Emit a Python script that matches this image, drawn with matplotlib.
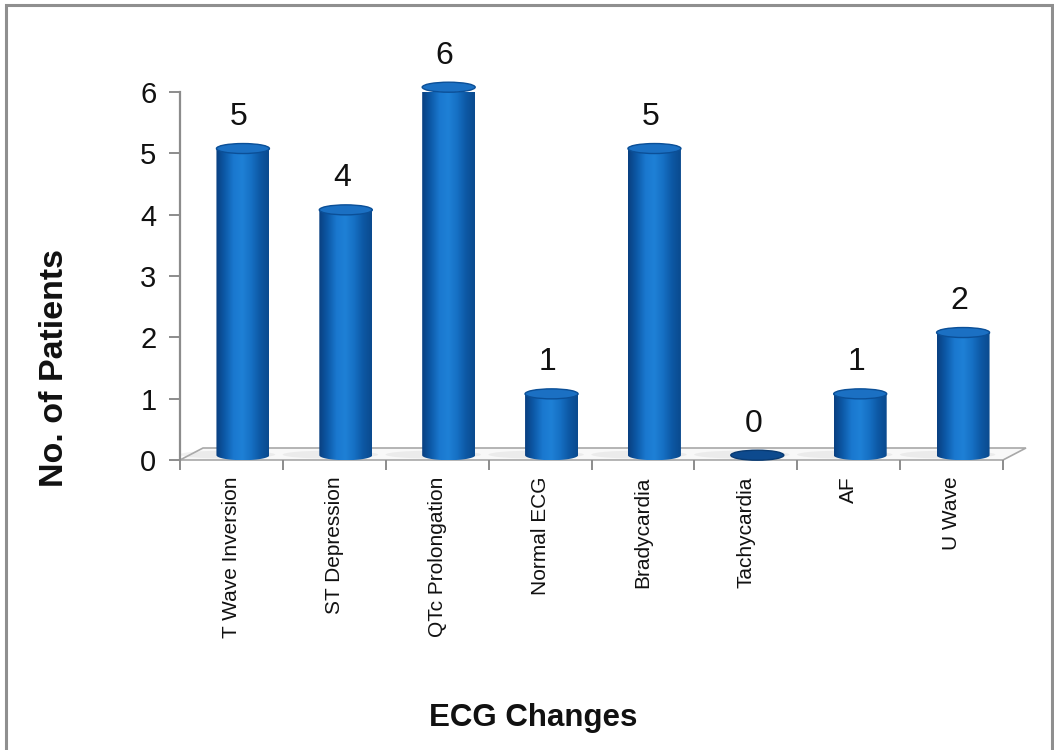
import numpy as np
import matplotlib
matplotlib.use('Agg')
import matplotlib.pyplot as plt
from matplotlib.path import Path
from matplotlib.patches import PathPatch, Ellipse, Polygon, Rectangle
from matplotlib.colors import LinearSegmentedColormap

plt.rcParams['font.family'] = ['Liberation Sans', 'DejaVu Sans']

categories = ['T Wave Inversion', 'ST Depression', 'QTc Prolongation', 'Normal ECG',
              'Bradycardia', 'Tachycardia', 'AF', 'U Wave']
patients = [5, 4, 6, 1, 5, 0, 1, 2]
yticks = [0, 1, 2, 3, 4, 5, 6]

W, H = 1054, 750
fig = plt.figure(figsize=(W / 100, H / 100), dpi=100)
fig.patch.set_facecolor('white')

# outer frame
fig.patches.append(Rectangle((6 / W, -0.05), (1052 - 6) / W, 1.05 - 5 / H,
                             transform=fig.transFigure, fill=False,
                             edgecolor='#8f8f8f', lw=2.2))

ax = fig.add_axes([180 / W, 1 - 460 / H, 823 / W, 368 / H])
ax.set_xlim(0, len(categories))
ax.set_ylim(0, 6)
ax.patch.set_alpha(0)

# 3d depth of the floor in data units
ppx = 823 / len(categories)
ppy = 368 / 6
dx = 23 / ppx
dy = 12 / ppy

n = len(categories)
floor = Polygon([(0, 0), (n, 0), (n + dx, dy), (dx, dy)], closed=True,
                facecolor='#f8f8f8', edgecolor='#a8a8a8', lw=1.2, clip_on=False, zorder=1)
ax.add_patch(floor)

bar_cmap = LinearSegmentedColormap.from_list(
    'cyl', ['#093f80', '#0d5aa8', '#1a78cf', '#1e80d6', '#1670c4', '#0d58a4', '#0a4a8e'])
grad = np.linspace(0, 1, 256).reshape(1, -1)

bw = 53 / ppx
eh = 10 / ppy
zoff = 0.4 * dy

for i, v in enumerate(patients):
    cx = i + 0.5 + dx / 2
    x0, x1 = cx - bw / 2, cx + bw / 2
    yb = zoff
    yt = v + zoff

    # faint shadow on the floor
    ax.add_patch(Ellipse((cx - 0.15, yb + 0.01), bw * 1.8, eh * 0.8, facecolor='#b5b5b5',
                         alpha=0.18, edgecolor='none', clip_on=False, zorder=2))

    if v > 0:
        # cylinder outline: lower half of base ellipse, right side, upper half of top ellipse
        tb = np.linspace(np.pi, 2 * np.pi, 40)
        tt = np.linspace(0, np.pi, 40)
        bottom = np.column_stack([cx + bw / 2 * np.cos(tb), yb + eh / 2 * np.sin(tb)])
        top = np.column_stack([cx + bw / 2 * np.cos(tt), yt + eh / 2 * np.sin(tt)])
        verts = np.vstack([bottom, top, bottom[:1]])
        body = PathPatch(Path(verts, closed=True), facecolor='none', edgecolor='none', zorder=3)
        ax.add_patch(body)
        im = ax.imshow(grad, cmap=bar_cmap, extent=[x0, x1, yb - eh, yt + eh], aspect='auto',
                       zorder=3, interpolation='bilinear')
        im.set_clip_on(True)
        im.set_clip_box(None)
        im.set_clip_path(body)
        top_face = '#1b70c3'
        top_edge = '#0b4f97'
    else:
        top_face = '#0d4a8e'
        top_edge = '#083a72'

    ax.add_patch(Ellipse((cx, yt), bw, eh, facecolor=top_face, edgecolor=top_edge,
                         lw=1.0, zorder=4, clip_on=False))

    ax.text(cx - 0.04, yt + eh / 2 + 0.3, str(v), ha='center', va='baseline',
            fontsize=23, color='#111111', zorder=5, clip_on=False)

ax.set_xlim(0, n)
ax.set_ylim(0, 6)

# axes styling
for s in ['top', 'right', 'bottom']:
    ax.spines[s].set_visible(False)
ax.spines['left'].set_color('#8c8c8c')
ax.spines['left'].set_linewidth(1.6)

ax.set_yticks(yticks)
ax.set_yticklabels([str(t) for t in yticks])
ax.tick_params(axis='y', direction='out', length=8, width=1.4, color='#8c8c8c',
               labelsize=21, pad=9, labelcolor='#111111')

ax.set_xticks(np.arange(0, n + 1))
ax.set_xticklabels([])
ax.tick_params(axis='x', which='major', direction='out', length=7, width=1.4, color='#8c8c8c')
ax.set_xticks(np.arange(n) + 0.5, minor=True)
ax.set_xticklabels(categories, minor=True, rotation=90, fontsize=15, color='#111111')
ax.tick_params(axis='x', which='minor', length=0, pad=12)

fig.text(55 / W, 1 - 368 / H, 'No. of Patients', rotation=90, ha='center', va='center',
         fontsize=24.5, fontweight='bold', color='#111111')
fig.text(533 / W, 1 - 718 / H, 'ECG Changes', ha='center', va='center',
         fontsize=22.5, fontweight='bold', color='#111111')

fig.savefig('out.png', dpi=100, facecolor='white')
